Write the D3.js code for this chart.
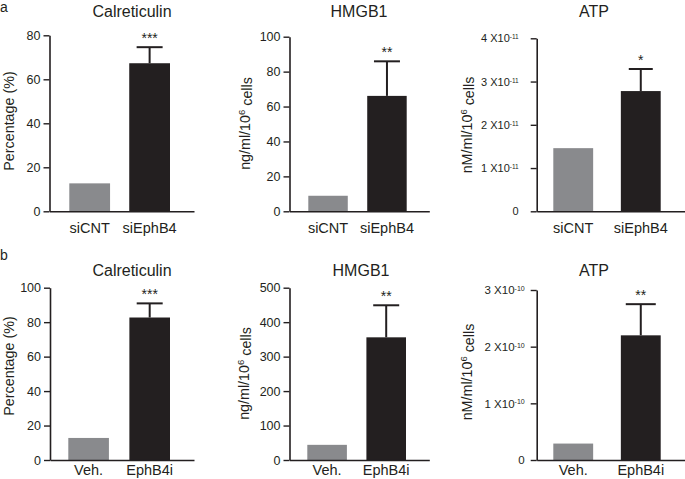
<!DOCTYPE html>
<html>
<head>
<meta charset="utf-8">
<script src="https://cdn.jsdelivr.net/npm/d3@7"></script>
<style>
  html, body { margin: 0; padding: 0; background: #fff; }
  svg { display: block; font-family: "Liberation Sans", Arial, Helvetica, sans-serif; }
</style>
</head>
<body>
<svg id="chart" width="685" height="479"></svg>
<script>
// ---------- data ----------
const rowLetters = ["a", "b"];
const titles = ["Calreticulin", "HMGB1", "ATP"];
const yLabels = ["Percentage (%)", "ng/ml/10^6 cells", "nM/ml/10^6 cells"];
const rowACategories = ["siCNT", "siEphB4"];
const rowBCategories = ["Veh.", "EphB4i"];

const calretAValues = [12.7, 67.3];
const calretAErrors = [0, 7.3];
const hmgbAValues = [8.9, 66.1];
const hmgbAErrors = [0, 19.8];
const atpAValues = [1.46e-11, 2.78e-11];
const atpAErrors = [0, 0.51e-11];

const calretBValues = [12.8, 82.7];
const calretBErrors = [0, 8.2];
const hmgbBValues = [44, 356];
const hmgbBErrors = [0, 93];
const atpBValues = [0.29e-10, 2.2e-10];
const atpBErrors = [0, 0.55e-10];

const rowAStars = ["***", "**", "*"];
const rowBStars = ["***", "**", "**"];

const calretATicks = [0, 20, 40, 60, 80];
const calretATickLabels = ["0", "20", "40", "60", "80"];
const hmgbATicks = [0, 20, 40, 60, 80, 100];
const hmgbATickLabels = ["0", "20", "40", "60", "80", "100"];
const atpATicks = [0, 1e-11, 2e-11, 3e-11, 4e-11];
const atpATickLabels = ["0", "1 X10^-11", "2 X10^-11", "3 X10^-11", "4 X10^-11"];
const calretBTicks = [0, 20, 40, 60, 80, 100];
const calretBTickLabels = ["0", "20", "40", "60", "80", "100"];
const hmgbBTicks = [0, 100, 200, 300, 400, 500];
const hmgbBTickLabels = ["0", "100", "200", "300", "400", "500"];
const atpBTicks = [0, 1e-10, 2e-10, 3e-10];
const atpBTickLabels = ["0", "1 X10^-10", "2 X10^-10", "3 X10^-10"];

// ---------- layout (positions only) ----------
const layouts = [
  { axisX: 49.5, axisEnd: 194, top: 35.3, bottom: 211.3, barL: 69.3, barR: 170, pad: 0.32, tickPad: 3, tickFont: 12.5, supFont: 8, labelX: 9, labelY: 121, titleX: 132, titleY: 17, catY: 233, cap: 26 },
  { axisX: 289.5, axisEnd: 429.3, top: 36.7, bottom: 211.3, barL: 308.3, barR: 406.7, pad: 0.33, tickPad: 3, tickFont: 12.5, supFont: 8, labelX: 245, labelY: 123.5, titleX: 359, titleY: 17, catY: 233, cap: 26 },
  { axisX: 536.7, axisEnd: 685, top: 38.3, bottom: 211.3, barL: 553.3, barR: 660.7, pad: 0.41, tickPad: 12, tickFont: 11, supFont: 6.5, labelX: 467, labelY: 125, titleX: 594, titleY: 17, catY: 233, cap: 24 },
  { axisX: 50, axisEnd: 194, top: 287.7, bottom: 460, barL: 68.3, barR: 170, pad: 0.335, tickPad: 3, tickFont: 12.5, supFont: 8, labelX: 9, labelY: 366, titleX: 132, titleY: 276, catY: 475, cap: 26 },
  { axisX: 289.5, axisEnd: 429.3, top: 287.7, bottom: 460, barL: 307.3, barR: 406, pad: 0.33, tickPad: 3, tickFont: 12.5, supFont: 8, labelX: 244, labelY: 373.5, titleX: 361, titleY: 276, catY: 475, cap: 26 },
  { axisX: 536.7, axisEnd: 685, top: 290, bottom: 460, barL: 553.3, barR: 660.7, pad: 0.41, tickPad: 6, tickFont: 11.5, supFont: 7, labelX: 467, labelY: 372, titleX: 594, titleY: 276, catY: 475, cap: 30 }
];

const panels = [
  { cats: rowACategories, values: calretAValues, errors: calretAErrors, ticks: calretATicks, tickLabels: calretATickLabels, title: titles[0], ylabel: yLabels[0], star: rowAStars[0] },
  { cats: rowACategories, values: hmgbAValues, errors: hmgbAErrors, ticks: hmgbATicks, tickLabels: hmgbATickLabels, title: titles[1], ylabel: yLabels[1], star: rowAStars[1] },
  { cats: rowACategories, values: atpAValues, errors: atpAErrors, ticks: atpATicks, tickLabels: atpATickLabels, title: titles[2], ylabel: yLabels[2], star: rowAStars[2] },
  { cats: rowBCategories, values: calretBValues, errors: calretBErrors, ticks: calretBTicks, tickLabels: calretBTickLabels, title: titles[0], ylabel: yLabels[0], star: rowBStars[0] },
  { cats: rowBCategories, values: hmgbBValues, errors: hmgbBErrors, ticks: hmgbBTicks, tickLabels: hmgbBTickLabels, title: titles[1], ylabel: yLabels[1], star: rowBStars[1] },
  { cats: rowBCategories, values: atpBValues, errors: atpBErrors, ticks: atpBTicks, tickLabels: atpBTickLabels, title: titles[2], ylabel: yLabels[2], star: rowBStars[2] }
];

const INK = "#231f20";
const GREY = "#898a8d";
const barColors = [GREY, INK];

const svg = d3.select("#chart");

// write text with "^" superscript
function writeSup(sel, str, supSize) {
  const parts = str.split("^");
  sel.text(null);
  sel.append("tspan").text(parts[0]);
  if (parts.length > 1) {
    const m = parts[1].match(/^(-?\d+)(.*)$/);
    sel.append("tspan").attr("dy", "-0.45em").attr("font-size", supSize).text(m[1]);
    if (m[2]) sel.append("tspan").attr("dy", "0.45em").text(m[2]);
  }
}

panels.forEach((p, i) => {
  const L = layouts[i];
  const g = svg.append("g");
  const yMax = p.ticks[p.ticks.length - 1];
  const y = d3.scaleLinear().domain([0, yMax]).range([L.bottom, L.top]);
  const x = d3.scaleBand().domain(p.cats).range([L.barL, L.barR]).paddingInner(L.pad).paddingOuter(0);

  // bars
  g.selectAll("rect.bar").data(p.cats).join("rect")
    .attr("class", "bar")
    .attr("x", d => x(d))
    .attr("width", x.bandwidth())
    .attr("y", (d, j) => y(p.values[j]))
    .attr("height", (d, j) => L.bottom - y(p.values[j]))
    .attr("fill", (d, j) => barColors[j]);

  // error bars
  p.cats.forEach((c, j) => {
    if (!p.errors[j]) return;
    const cx = x(c) + x.bandwidth() / 2;
    const yt = y(p.values[j] + p.errors[j]);
    g.append("line").attr("x1", cx).attr("x2", cx).attr("y1", y(p.values[j])).attr("y2", yt)
      .attr("stroke", INK).attr("stroke-width", 2);
    g.append("line").attr("x1", cx - L.cap / 2).attr("x2", cx + L.cap / 2).attr("y1", yt).attr("y2", yt)
      .attr("stroke", INK).attr("stroke-width", 2);
    g.append("text").attr("x", cx).attr("y", yt - 4)
      .attr("text-anchor", "middle").attr("font-size", 14).attr("fill", INK).text(p.star);
  });

  // y axis
  const yAxis = d3.axisLeft(y).tickValues(p.ticks).tickSize(6).tickSizeOuter(0).tickPadding(L.tickPad)
    .tickFormat((d, k) => p.tickLabels[k]);
  const ya = g.append("g").attr("transform", `translate(${L.axisX},0)`).call(yAxis);
  ya.select(".domain").attr("stroke", INK).attr("stroke-width", 1.6);
  ya.selectAll(".tick line").attr("stroke", INK).attr("stroke-width", 1.4);
  ya.selectAll(".tick text").attr("font-size", L.tickFont).attr("fill", INK)
    .attr("font-family", "'Liberation Sans', Arial, sans-serif")
    .each(function (d, k) { writeSup(d3.select(this), p.tickLabels[k], L.supFont); });

  // x axis (baseline)
  const xb = d3.scaleLinear().range([L.axisX, L.axisEnd]);
  const xa = g.append("g").attr("transform", `translate(0,${L.bottom})`)
    .call(d3.axisBottom(xb).tickValues([]).tickSizeOuter(0));
  xa.select(".domain").attr("stroke", INK).attr("stroke-width", 1.6);

  // category labels
  g.selectAll("text.cat").data(p.cats).join("text")
    .attr("class", "cat")
    .attr("x", d => x(d) + x.bandwidth() / 2)
    .attr("y", L.catY)
    .attr("text-anchor", "middle").attr("font-size", 14.5).attr("fill", INK)
    .text(d => d);

  // title
  g.append("text").attr("x", L.titleX).attr("y", L.titleY)
    .attr("text-anchor", "middle").attr("font-size", 16).attr("fill", INK).text(p.title);

  // y label
  const yl = g.append("text")
    .attr("transform", `translate(${L.labelX},${L.labelY}) rotate(-90)`)
    .attr("text-anchor", "middle").attr("dominant-baseline", "central")
    .attr("font-size", 14.3).attr("fill", INK);
  writeSup(yl, p.ylabel, 9.5);
});

// row letters
svg.append("text").attr("x", 0).attr("y", 12).attr("font-size", 14).attr("fill", INK).text(rowLetters[0]);
svg.append("text").attr("x", 0).attr("y", 260).attr("font-size", 14).attr("fill", INK).text(rowLetters[1]);
</script>
</body>
</html>
